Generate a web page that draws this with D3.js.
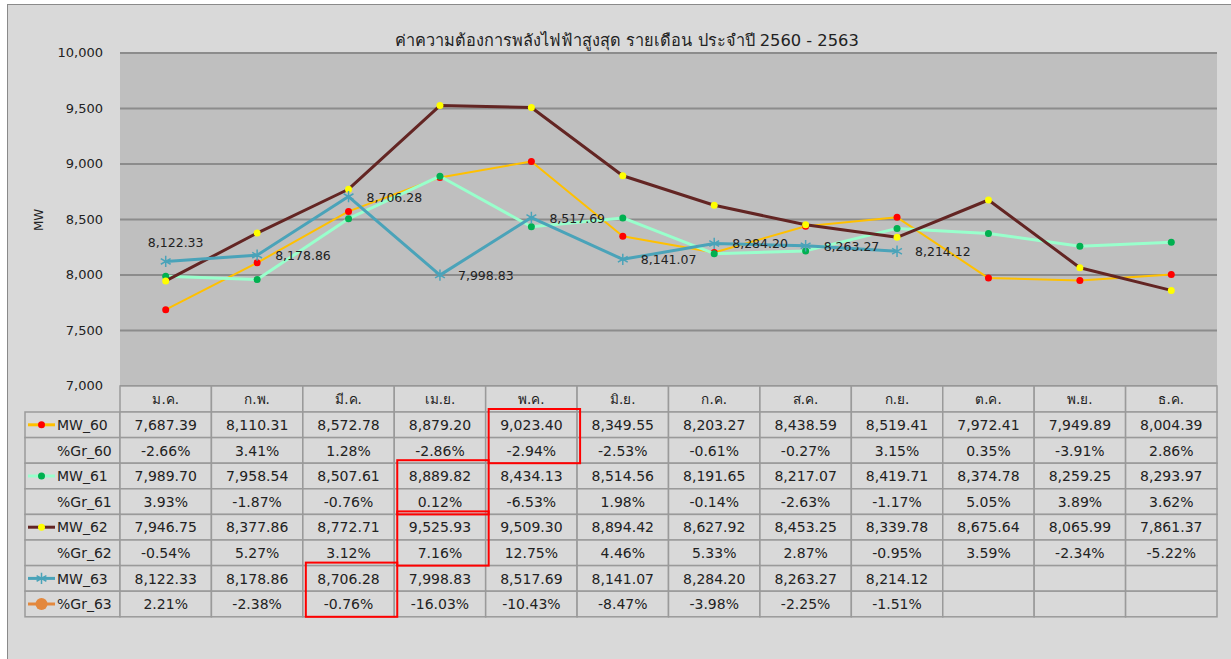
<!DOCTYPE html>
<html>
<head>
<meta charset="utf-8">
<script src="https://cdn.jsdelivr.net/npm/d3@7"></script>
<style>
  body { margin: 0; background: #fff; }
  text { font-family: "DejaVu Sans", "Noto Sans", sans-serif; fill: #222; }
</style>
</head>
<body>
<svg id="chart" width="1231" height="659"></svg>
<script>
// data
const months = ["ม.ค.", "ก.พ.", "มี.ค.", "เม.ย.", "พ.ค.", "มิ.ย.", "ก.ค.", "ส.ค.", "ก.ย.", "ต.ค.", "พ.ย.", "ธ.ค."];
const mw60 = [7687.39, 8110.31, 8572.78, 8879.20, 9023.40, 8349.55, 8203.27, 8438.59, 8519.41, 7972.41, 7949.89, 8004.39];
const gr60 = [-2.66, 3.41, 1.28, -2.86, -2.94, -2.53, -0.61, -0.27, 3.15, 0.35, -3.91, 2.86];
const mw61 = [7989.70, 7958.54, 8507.61, 8889.82, 8434.13, 8514.56, 8191.65, 8217.07, 8419.71, 8374.78, 8259.25, 8293.97];
const gr61 = [3.93, -1.87, -0.76, 0.12, -6.53, 1.98, -0.14, -2.63, -1.17, 5.05, 3.89, 3.62];
const mw62 = [7946.75, 8377.86, 8772.71, 9525.93, 9509.30, 8894.42, 8627.92, 8453.25, 8339.78, 8675.64, 8065.99, 7861.37];
const gr62 = [-0.54, 5.27, 3.12, 7.16, 12.75, 4.46, 5.33, 2.87, -0.95, 3.59, -2.34, -5.22];
const mw63 = [8122.33, 8178.86, 8706.28, 7998.83, 8517.69, 8141.07, 8284.20, 8263.27, 8214.12];
const gr63 = [2.21, -2.38, -0.76, -16.03, -10.43, -8.47, -3.98, -2.25, -1.51];
const yTicks = [7000, 7500, 8000, 8500, 9000, 9500, 10000];
const title = "ค่าความต้องการพลังไฟฟ้าสูงสุด รายเดือน ประจำปี 2560 - 2563";
// highlighted cells: [table row of MW value, month index]
const highlights = [[0, 4], [2, 3], [4, 3], [6, 2]];

const svg = d3.select("#chart");
const plotL = 120, plotR = 1217, plotT = 53, plotB = 386;
const rowH = 25.6, tableTop = plotB + 26, tableLeft = 25;

const x = d3.scaleBand().domain(d3.range(12)).range([plotL, plotR]);
const y = d3.scaleLinear().domain([7000, 10000]).range([plotB, plotT]);
// plain hyphen for negatives, like the original
const loc = d3.formatLocale({ decimal: ".", thousands: ",", grouping: [3], currency: ["", ""], minus: "-" });
const fmtMW = loc.format(",.2f");
const fmtGr = (v) => loc.format(".2f")(v) + "%";

// outer chart area
svg.append("rect").attr("x", 7.5).attr("y", 4.5).attr("width", 1250).attr("height", 680)
  .attr("fill", "#d9d9d9").attr("stroke", "#8a8a8a");

svg.append("text").attr("x", 627).attr("y", 46).attr("text-anchor", "middle")
  .style("font-size", "16.3px").text(title);

// plot area
svg.append("rect").attr("x", plotL).attr("y", plotT).attr("width", plotR - plotL).attr("height", plotB - plotT)
  .attr("fill", "#bfbfbf");

svg.append("g").selectAll("line").data(yTicks).join("line")
  .attr("x1", plotL).attr("x2", plotR)
  .attr("y1", (d) => y(d)).attr("y2", (d) => y(d))
  .attr("stroke", "#8c8c8c").attr("stroke-width", 2);

svg.append("g").selectAll("text").data(yTicks).join("text")
  .attr("x", 103).attr("y", (d) => y(d) + 4).attr("text-anchor", "end")
  .style("font-size", "13px").text(loc.format(","));

svg.append("text").attr("transform", "translate(43,220) rotate(-90)")
  .attr("text-anchor", "middle").style("font-size", "12px").text("MW");

const series = [
  { name: "MW_60", values: mw60, line: "#ffc000", mark: "#ff0000", width: 2, type: "dot" },
  { name: "MW_61", values: mw61, line: "#99ffcc", mark: "#00b050", width: 3, type: "dot" },
  { name: "MW_62", values: mw62, line: "#632523", mark: "#ffff00", width: 3, type: "dot" },
  { name: "MW_63", values: mw63, line: "#4aa3b9", mark: "#4aa3b9", width: 3, type: "star" }
];

const cx = (i) => x(i) + x.bandwidth() / 2;
const line = d3.line().x((d, i) => cx(i)).y((d) => y(d));
const star = d3.symbol(d3.symbolAsterisk, 90);

series.forEach((s) => {
  const g = svg.append("g");
  g.append("path").datum(s.values).attr("d", line)
    .attr("fill", "none").attr("stroke", s.line).attr("stroke-width", s.width)
    .attr("stroke-linejoin", "round");
  if (s.type === "dot") {
    g.selectAll("circle").data(s.values).join("circle")
      .attr("cx", (d, i) => cx(i)).attr("cy", (d) => y(d)).attr("r", 3.5)
      .attr("fill", s.mark);
  } else {
    g.selectAll("path.m").data(s.values).join("path").attr("class", "m")
      .attr("transform", (d, i) => `translate(${cx(i)},${y(d)})`)
      .attr("d", star).attr("fill", "none").attr("stroke", s.mark).attr("stroke-width", 1.5);
  }
});

// data labels of MW_63
svg.append("g").selectAll("text").data(mw63).join("text")
  .attr("x", (d, i) => (i === 0 ? cx(i) + 10 : cx(i) + 18))
  .attr("y", (d, i) => (i === 0 ? y(d) - 14 : y(d) + 5))
  .attr("text-anchor", (d, i) => (i === 0 ? "middle" : "start"))
  .style("font-size", "12.5px").text(fmtMW);

// data table
const rows = [
  { label: "MW_60", cells: mw60.map(fmtMW), key: series[0] },
  { label: "%Gr_60", cells: gr60.map(fmtGr) },
  { label: "MW_61", cells: mw61.map(fmtMW), key: series[1] },
  { label: "%Gr_61", cells: gr61.map(fmtGr) },
  { label: "MW_62", cells: mw62.map(fmtMW), key: series[2] },
  { label: "%Gr_62", cells: gr62.map(fmtGr) },
  { label: "MW_63", cells: mw63.map(fmtMW), key: series[3] },
  { label: "%Gr_63", cells: gr63.map(fmtGr), key: { line: "#e3883d", mark: "#e3883d", type: "big" } }
];
const ry = (r) => tableTop + r * rowH;
const grid = "#9a9a9a";
const tg = svg.append("g");

// header
tg.selectAll("rect.h").data(months).join("rect").attr("class", "h")
  .attr("x", (d, i) => x(i)).attr("y", plotB).attr("width", x.bandwidth()).attr("height", 26)
  .attr("fill", "#d9d9d9").attr("stroke", grid).attr("stroke-width", 1.5);
tg.selectAll("text.h").data(months).join("text").attr("class", "h")
  .attr("x", (d, i) => cx(i)).attr("y", plotB + 18).attr("text-anchor", "middle")
  .style("font-size", "13.5px").text((d) => d);

rows.forEach((r, ri) => {
  const g = tg.append("g");
  g.append("rect").attr("x", tableLeft).attr("y", ry(ri)).attr("width", plotL - tableLeft).attr("height", rowH)
    .attr("fill", "#d9d9d9").attr("stroke", grid).attr("stroke-width", 1.5);
  g.selectAll("rect.c").data(months).join("rect").attr("class", "c")
    .attr("x", (d, i) => x(i)).attr("y", ry(ri)).attr("width", x.bandwidth()).attr("height", rowH)
    .attr("fill", "#d9d9d9").attr("stroke", grid).attr("stroke-width", 1.5);
  g.selectAll("text.c").data(r.cells).join("text").attr("class", "c")
    .attr("x", (d, i) => cx(i)).attr("y", ry(ri) + 18).attr("text-anchor", "middle")
    .style("font-size", "14px").text((d) => d);
  g.append("text").attr("x", 57).attr("y", ry(ri) + 18).style("font-size", "14px").text(r.label);
  if (r.key) {
    const my = ry(ri) + rowH / 2;
    g.append("line").attr("x1", 28).attr("x2", 55).attr("y1", my).attr("y2", my)
      .attr("stroke", r.key.line).attr("stroke-width", 3);
    if (r.key.type === "star") {
      g.append("path").attr("transform", `translate(41.5,${my})`).attr("d", star)
        .attr("fill", "none").attr("stroke", r.key.mark).attr("stroke-width", 1.5);
    } else {
      g.append("circle").attr("cx", 41.5).attr("cy", my).attr("r", r.key.type === "big" ? 6 : 3.5)
        .attr("fill", r.key.mark);
    }
  }
});

// red highlight boxes
svg.append("g").selectAll("rect").data(highlights).join("rect")
  .attr("x", (d) => x(d[1]) + 3).attr("y", (d) => ry(d[0]) - 3)
  .attr("width", x.bandwidth()).attr("height", rowH * 2 + 3)
  .attr("fill", "none").attr("stroke", "#ff0000").attr("stroke-width", 2);
</script>
</body>
</html>
